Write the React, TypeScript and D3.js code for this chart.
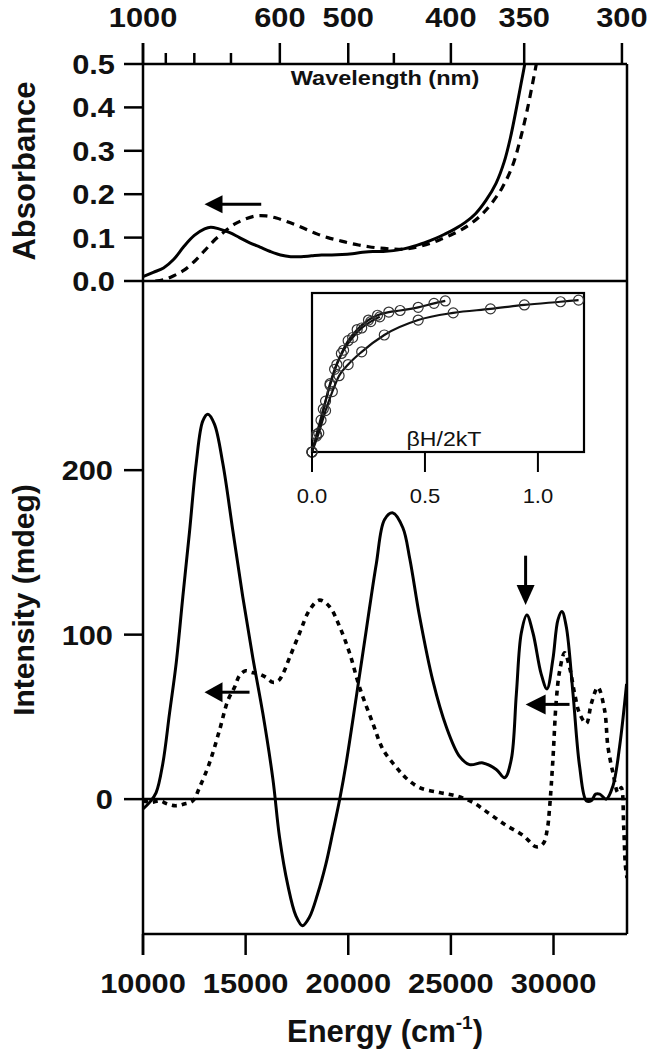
import React from 'react';
import * as d3 from 'd3';

// ---------- data ----------
// Absorbance spectra (energy cm-1, absorbance)
const absSolid: [number, number][] = [
  [10000, 0.01], [10500, 0.02], [11000, 0.03], [11500, 0.05], [12000, 0.08], [12500, 0.105],
  [13000, 0.12], [13300, 0.124], [13700, 0.12], [14200, 0.112], [14700, 0.1], [15200, 0.088],
  [15700, 0.078], [16200, 0.068], [16700, 0.06], [17200, 0.056], [17700, 0.056], [18200, 0.058],
  [18700, 0.06], [19200, 0.06], [19700, 0.061], [20200, 0.063], [20700, 0.066], [21200, 0.068],
  [21700, 0.068], [22200, 0.07], [22700, 0.074], [23200, 0.08], [23700, 0.088], [24200, 0.097],
  [24700, 0.108], [25200, 0.12], [25700, 0.135], [26200, 0.155], [26700, 0.185], [27200, 0.225],
  [27600, 0.275], [27900, 0.33], [28200, 0.4], [28400, 0.45], [28600, 0.5], [28700, 0.53],
];
const absDashed: [number, number][] = [
  [10600, 0.0], [11000, 0.003], [11500, 0.012], [12000, 0.025], [12500, 0.045], [13000, 0.07],
  [13500, 0.095], [14000, 0.115], [14500, 0.132], [15000, 0.143], [15500, 0.15], [16000, 0.15],
  [16500, 0.145], [17000, 0.137], [17500, 0.128], [18000, 0.118], [18500, 0.108], [19000, 0.1],
  [19500, 0.094], [20000, 0.088], [20500, 0.083], [21000, 0.079], [21500, 0.076], [22000, 0.074],
  [22500, 0.073], [23000, 0.075], [23500, 0.08], [24000, 0.087], [24500, 0.096], [25000, 0.106],
  [25500, 0.118], [26000, 0.133], [26500, 0.153], [27000, 0.18], [27500, 0.215], [28000, 0.265],
  [28400, 0.33], [28700, 0.39], [29000, 0.46], [29200, 0.51], [29300, 0.54],
];

// MCD spectra (energy cm-1, intensity mdeg)
const cdSolid: [number, number][] = [
  [10000, -6], [10320, -2], [10640, 4], [10970, 22], [11290, 52], [11620, 83], [11940, 123],
  [12270, 163], [12590, 204], [12915, 230], [13160, 234], [13480, 228], [13890, 204], [14380, 163],
  [14860, 123], [15350, 86], [15840, 52], [16330, 12], [16650, -23], [17050, -52], [17450, -71],
  [17770, -77], [18100, -72], [18500, -58], [18900, -40], [19250, -20], [19600, 1], [19900, 22],
  [20390, 62], [20880, 103], [21365, 143], [21770, 170], [22175, 174], [22660, 165], [23000, 146],
  [23475, 111], [24120, 72], [24775, 44], [25420, 26], [25910, 21], [26560, 22], [27210, 18],
  [27620, 13], [27940, 24], [28190, 64], [28430, 101], [28700, 112], [29000, 101], [29400, 76],
  [29680, 67], [29970, 85], [30215, 109], [30410, 114], [30620, 105], [30950, 64], [31270, 20],
  [31600, -1], [31840, -1], [32050, 3], [32250, 3], [32570, 0], [32895, 8], [33220, 32], [33560, 70],
];
const cdDashed: [number, number][] = [
  [10000, -1], [10400, -2], [10800, -1], [11200, -3], [11600, -4], [12000, -3], [12430, -1],
  [12750, 7], [13240, 22], [13730, 42], [14135, 60], [14460, 68], [14700, 75], [15000, 78],
  [15300, 77], [15680, 76], [16000, 74], [16330, 71], [16600, 72], [16810, 76], [17140, 86],
  [17630, 101], [18115, 115], [18600, 121], [19090, 117], [19575, 105], [20060, 89], [20550, 68],
  [21200, 46], [21700, 30], [22300, 20], [22800, 13], [23475, 7], [24450, 4], [25260, 2],
  [26070, -2], [26890, -9], [27700, -16], [28510, -22], [29160, -29], [29500, -27], [29700, -18],
  [29810, -5], [29970, 24], [30135, 60], [30300, 78], [30540, 89], [30785, 80], [31030, 64],
  [31270, 52], [31600, 46], [31840, 58], [32160, 68], [32490, 54], [32650, 32], [32895, 16],
  [33140, 4], [33300, 7], [33420, -17], [33500, -40], [33580, -48],
];

// Inset saturation magnetization data (βH/2kT, normalized)
const insetA: [number, number][] = [
  [0, 0], [0.02, 0.1], [0.04, 0.2], [0.06, 0.32], [0.08, 0.43], [0.1, 0.52], [0.13, 0.62],
  [0.16, 0.7], [0.2, 0.77], [0.25, 0.83], [0.29, 0.86], [0.34, 0.88], [0.39, 0.89], [0.47, 0.91],
  [0.54, 0.935], [0.59, 0.95],
];
const insetB: [number, number][] = [
  [0, 0], [0.02, 0.11], [0.05, 0.27], [0.08, 0.42], [0.11, 0.55], [0.14, 0.64], [0.18, 0.72],
  [0.22, 0.78], [0.26, 0.82], [0.3, 0.85],
];
const insetC: [number, number][] = [
  [0, 0], [0.03, 0.12], [0.06, 0.26], [0.09, 0.38], [0.12, 0.48], [0.16, 0.55], [0.22, 0.63],
  [0.32, 0.736], [0.47, 0.83], [0.625, 0.875], [0.79, 0.9], [0.94, 0.925], [1.1, 0.945], [1.18, 0.955],
];

// Axis ticks
const absTicks = [0, 0.1, 0.2, 0.3, 0.4, 0.5];
const cdTicks = [0, 100, 200];
const energyTicks = [10000, 15000, 20000, 25000, 30000];
const wlMajor = [1000, 600, 500, 400, 350, 300];
const wlMinor = [900, 800, 700, 450];
const insetTicks = [0, 0.5, 1.0];

// Arrows (data coords)
const absArrow = { from: 15760, to: 12997, y: 0.177 };
const cdArrowLeft = { from: 15190, to: 12997, y: 65 };
const cdArrowRight = { from: 30780, to: 28640, y: 57.6 };
const cdArrowDown = { x: 28640, from: 148, to: 118 };

// ---------- layout ----------
const FONT = "'Liberation Sans', Arial, Helvetica, sans-serif";
const L = 143, R = 627, TOP = 64, MID = 281, BOT = 934;

const x = d3.scaleLinear().domain([10000, 33580]).range([L, R]);
const yA = d3.scaleLinear().domain([0, 0.5]).range([MID, TOP]);
const yC = d3.scaleLinear().domain([-82, 315]).range([BOT, MID]);
const xI = d3.scaleLinear().domain([0, 1.204]).range([312, 584]);
const yI = d3.scaleLinear().domain([0, 1]).range([452, 293]);

const lineA = d3.line<[number, number]>().x(d => x(d[0])).y(d => yA(d[1])).curve(d3.curveCatmullRom.alpha(0.5));
const lineC = d3.line<[number, number]>().x(d => x(d[0])).y(d => yC(d[1])).curve(d3.curveCatmullRom.alpha(0.5));
const lineI = d3.line<[number, number]>().x(d => xI(d[0])).y(d => yI(d[1])).curve(d3.curveMonotoneX);

function HArrow({ x1, x2, y, head = 18, half = 9, sw = 3 }: { x1: number; x2: number; y: number; head?: number; half?: number; sw?: number }) {
  const dir = x2 < x1 ? 1 : -1;
  return (
    <g>
      <line x1={x1} y1={y} x2={x2 + dir * head * 0.8} y2={y} stroke="#000" strokeWidth={sw} />
      <path d={`M${x2},${y} L${x2 + dir * head},${y - half} L${x2 + dir * head},${y + half} Z`} fill="#000" />
    </g>
  );
}

function VArrow({ xx, y1, y2, head = 20, half = 9, sw = 3 }: { xx: number; y1: number; y2: number; head?: number; half?: number; sw?: number }) {
  return (
    <g>
      <line x1={xx} y1={y1} x2={xx} y2={y2 - head * 0.8} stroke="#000" strokeWidth={sw} />
      <path d={`M${xx},${y2} L${xx - half},${y2 - head} L${xx + half},${y2 - head} Z`} fill="#000" />
    </g>
  );
}

function Label({ tx, ty, text, anchor = 'middle', size = 28, sx = 1.1 }: { tx: number; ty: number; text: string; anchor?: string; size?: number; sx?: number }) {
  return (
    <text transform={`translate(${tx},${ty}) scale(${sx},1)`} textAnchor={anchor as any} fontFamily={FONT} fontWeight="bold" fontSize={size} fill="#111">
      {text}
    </text>
  );
}

export default function App() {
  const axisW = 2.5;
  return (
    <svg width={656} height={1050} style={{ position: 'absolute', left: 0, top: 0, background: '#fff' }}>
      <defs>
        <clipPath id="clipA"><rect x={L} y={TOP} width={R - L} height={MID - TOP} /></clipPath>
        <clipPath id="clipC"><rect x={L} y={MID} width={R - L} height={BOT - MID} /></clipPath>
      </defs>
      <rect x={0} y={0} width={656} height={1050} fill="#fff" />

      {/* curves upper */}
      <g clipPath="url(#clipA)">
        <path d={lineA(absSolid) || ''} fill="none" stroke="#000" strokeWidth={3} />
        <path d={lineA(absDashed) || ''} fill="none" stroke="#000" strokeWidth={3.2} strokeDasharray="8,6" />
      </g>
      {/* curves lower */}
      <g clipPath="url(#clipC)">
        <path d={lineC(cdDashed) || ''} fill="none" stroke="#000" strokeWidth={3.6} strokeDasharray="5,5" />
        <path d={lineC(cdSolid) || ''} fill="none" stroke="#000" strokeWidth={3} />
      </g>

      {/* frame */}
      <g stroke="#000" strokeWidth={axisW} fill="none">
        <line x1={L} y1={43} x2={L} y2={955} />
        <line x1={L} y1={TOP} x2={R} y2={TOP} />
        <line x1={R} y1={TOP} x2={R} y2={BOT} />
        <line x1={L} y1={BOT} x2={R} y2={BOT} />
        <line x1={L} y1={MID} x2={R} y2={MID} />
        <line x1={L} y1={yC(0)} x2={R} y2={yC(0)} />
        {absTicks.map(t => <line key={'a' + t} x1={124} x2={L} y1={yA(t)} y2={yA(t)} />)}
        {cdTicks.map(t => <line key={'c' + t} x1={124} x2={L} y1={yC(t)} y2={yC(t)} />)}
        {energyTicks.map(t => <line key={'e' + t} x1={x(t)} x2={x(t)} y1={BOT} y2={955} />)}
        {wlMajor.map(t => <line key={'w' + t} x1={x(1e7 / t)} x2={x(1e7 / t)} y1={TOP} y2={43} />)}
        {wlMinor.map(t => <line key={'m' + t} x1={x(1e7 / t)} x2={x(1e7 / t)} y1={TOP} y2={53} />)}
      </g>

      {/* tick labels */}
      {absTicks.map(t => <Label key={'al' + t} tx={115} ty={yA(t) + 10} text={t.toFixed(1)} anchor="end" />)}
      {cdTicks.map(t => <Label key={'cl' + t} tx={113} ty={yC(t) + 10} text={String(t)} anchor="end" />)}
      {energyTicks.map(t => <Label key={'el' + t} tx={x(t)} ty={993} text={String(t)} />)}
      {wlMajor.map(t => <Label key={'wl' + t} tx={x(1e7 / t)} ty={27} text={String(t)} />)}

      {/* axis titles */}
      <text transform="translate(35,171) rotate(-90)" textAnchor="middle" fontFamily={FONT} fontWeight="bold" fontSize={31} fill="#111">Absorbance</text>
      <text transform="translate(34,600) rotate(-90)" textAnchor="middle" fontFamily={FONT} fontWeight="bold" fontSize={30} fill="#111">Intensity (mdeg)</text>
      <text x={385} y={1042} textAnchor="middle" fontFamily={FONT} fontWeight="bold" fontSize={31} fill="#111">
        Energy (cm<tspan dy={-13} fontSize={19}>-1</tspan><tspan dy={13}>)</tspan>
      </text>
      <text transform="translate(385,85) scale(1.12,1)" textAnchor="middle" fontFamily={FONT} fontWeight="bold" fontSize={21} fill="#111">Wavelength (nm)</text>

      {/* arrows */}
      <HArrow x1={x(absArrow.from)} x2={x(absArrow.to)} y={yA(absArrow.y)} head={18} half={9} />
      <HArrow x1={x(cdArrowLeft.from)} x2={x(cdArrowLeft.to)} y={yC(cdArrowLeft.y)} head={18} half={10} />
      <HArrow x1={x(cdArrowRight.from)} x2={x(cdArrowRight.to)} y={yC(cdArrowRight.y)} head={20} half={10} />
      <VArrow xx={x(cdArrowDown.x)} y1={yC(cdArrowDown.from)} y2={yC(cdArrowDown.to)} head={20} half={9} />

      {/* inset */}
      <g>
        <rect x={312} y={293} width={272} height={159} fill="#fff" stroke="#000" strokeWidth={2.2} />
        {[insetA, insetB, insetC].map((s, i) => (
          <g key={'is' + i}>
            <path d={lineI(s) || ''} fill="none" stroke="#111" strokeWidth={2.2} />
            {s.map((d, j) => (
              <circle key={j} cx={xI(d[0])} cy={yI(d[1])} r={5} fill="none" stroke="#333" strokeWidth={1.2} />
            ))}
          </g>
        ))}
        {insetTicks.map(t => <line key={'it' + t} x1={xI(t)} x2={xI(t)} y1={452} y2={472} stroke="#000" strokeWidth={2} />)}
        {insetTicks.map(t => (
          <text key={'il' + t} transform={`translate(${xI(t)},503) scale(1.1,1)`} textAnchor="middle" fontFamily={FONT} fontSize={20} fill="#111">{t.toFixed(1)}</text>
        ))}
        <text transform="translate(444,446) scale(1.1,1)" textAnchor="middle" fontFamily={FONT} fontSize={21} fill="#111">βH/2kT</text>
      </g>
    </svg>
  );
}
